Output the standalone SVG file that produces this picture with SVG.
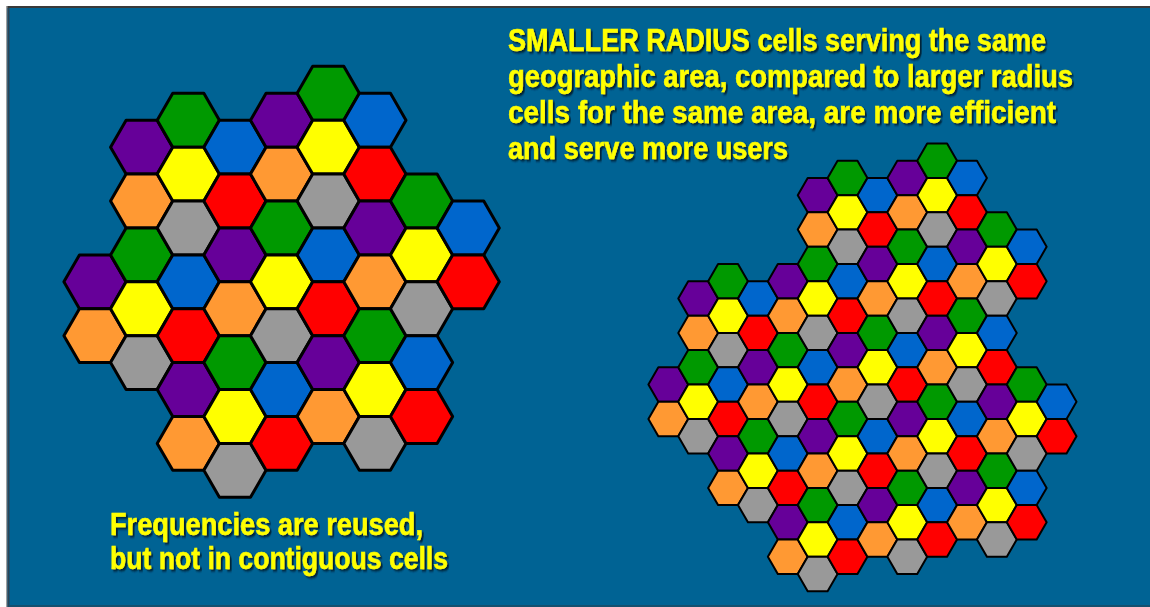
<svg xmlns="http://www.w3.org/2000/svg" width="1150" height="607" viewBox="0 0 1150 607">
<style>
.g{fill:#009900}.y{fill:#ffff00}.s{fill:#999999}.b{fill:#0066cc}.r{fill:#ff0000}.p{fill:#660099}.o{fill:#ff9933}
.L{stroke:#000;stroke-width:3;stroke-linejoin:round}
.R{stroke:#000;stroke-width:2;stroke-linejoin:round}
.t{font-family:"Liberation Sans Narrow","Liberation Sans","Arial Narrow",sans-serif;font-weight:bold;font-size:32px;fill:#ffff00;stroke:#ffff00;stroke-width:0.5;filter:url(#sh)}
</style>
<defs>
<polygon id="hL" points="31.1,0 15.55,26.93 -15.55,26.93 -31.1,0 -15.55,-26.93 15.55,-26.93"/>
<polygon id="hR" points="19.9,0 9.95,17.22 -9.95,17.22 -19.9,0 -9.95,-17.22 9.95,-17.22"/>
<filter id="sh" x="-5%" y="-30%" width="110%" height="160%">
<feDropShadow dx="2.2" dy="2" stdDeviation="0.8" flood-color="#001a2e" flood-opacity="0.95"/>
</filter>
</defs>
<rect width="1150" height="607" fill="#ffffff"/>
<rect x="6" y="6" width="1144" height="601" fill="#006394"/>
<rect x="6" y="6" width="1144" height="2" fill="#3a3a3a"/>
<rect x="6" y="6" width="1.5" height="601" fill="#a0a0a0"/>
<rect x="7.5" y="8" width="2" height="599" fill="#2b4456"/>
<rect x="9.5" y="605" width="1140.5" height="2" fill="#14506f"/>

<g id="large-cells" class="L">
<g id="L-col0" transform="translate(95,0)"><use href="#hL" y="281.81" class="p"/><use href="#hL" y="335.67" class="o"/></g>
<g id="L-col1" transform="translate(141.65,0)"><use href="#hL" y="147.16" class="p"/><use href="#hL" y="201.02" class="o"/><use href="#hL" y="254.88" class="g"/><use href="#hL" y="308.74" class="y"/><use href="#hL" y="362.6" class="s"/></g>
<g id="L-col2" transform="translate(188.3,0)"><use href="#hL" y="120.23" class="g"/><use href="#hL" y="174.09" class="y"/><use href="#hL" y="227.95" class="s"/><use href="#hL" y="281.81" class="b"/><use href="#hL" y="335.67" class="r"/><use href="#hL" y="389.53" class="p"/><use href="#hL" y="443.39" class="o"/></g>
<g id="L-col3" transform="translate(234.95,0)"><use href="#hL" y="147.16" class="b"/><use href="#hL" y="201.02" class="r"/><use href="#hL" y="254.88" class="p"/><use href="#hL" y="308.74" class="o"/><use href="#hL" y="362.6" class="g"/><use href="#hL" y="416.46" class="y"/><use href="#hL" y="470.32" class="s"/></g>
<g id="L-col4" transform="translate(281.6,0)"><use href="#hL" y="120.23" class="p"/><use href="#hL" y="174.09" class="o"/><use href="#hL" y="227.95" class="g"/><use href="#hL" y="281.81" class="y"/><use href="#hL" y="335.67" class="s"/><use href="#hL" y="389.53" class="b"/><use href="#hL" y="443.39" class="r"/></g>
<g id="L-col5" transform="translate(328.25,0)"><use href="#hL" y="93.3" class="g"/><use href="#hL" y="147.16" class="y"/><use href="#hL" y="201.02" class="s"/><use href="#hL" y="254.88" class="b"/><use href="#hL" y="308.74" class="r"/><use href="#hL" y="362.6" class="p"/><use href="#hL" y="416.46" class="o"/></g>
<g id="L-col6" transform="translate(374.9,0)"><use href="#hL" y="120.23" class="b"/><use href="#hL" y="174.09" class="r"/><use href="#hL" y="227.95" class="p"/><use href="#hL" y="281.81" class="o"/><use href="#hL" y="335.67" class="g"/><use href="#hL" y="389.53" class="y"/><use href="#hL" y="443.39" class="s"/></g>
<g id="L-col7" transform="translate(421.55,0)"><use href="#hL" y="201.02" class="g"/><use href="#hL" y="254.88" class="y"/><use href="#hL" y="308.74" class="s"/><use href="#hL" y="362.6" class="b"/><use href="#hL" y="416.46" class="r"/></g>
<g id="L-col8" transform="translate(468.2,0)"><use href="#hL" y="227.95" class="b"/><use href="#hL" y="281.81" class="r"/></g>
</g>

<g id="small-cells" class="R">
<g id="R-col0" transform="translate(668.3,0)"><use href="#hR" y="384.56" class="p"/><use href="#hR" y="419" class="o"/></g>
<g id="R-col1" transform="translate(698.17,0)"><use href="#hR" y="298.46" class="p"/><use href="#hR" y="332.9" class="o"/><use href="#hR" y="367.34" class="g"/><use href="#hR" y="401.78" class="y"/><use href="#hR" y="436.22" class="s"/></g>
<g id="R-col2" transform="translate(728.04,0)"><use href="#hR" y="281.24" class="g"/><use href="#hR" y="315.68" class="y"/><use href="#hR" y="350.12" class="s"/><use href="#hR" y="384.56" class="b"/><use href="#hR" y="419" class="r"/><use href="#hR" y="453.44" class="p"/><use href="#hR" y="487.88" class="o"/></g>
<g id="R-col3" transform="translate(757.91,0)"><use href="#hR" y="298.46" class="b"/><use href="#hR" y="332.9" class="r"/><use href="#hR" y="367.34" class="p"/><use href="#hR" y="401.78" class="o"/><use href="#hR" y="436.22" class="g"/><use href="#hR" y="470.66" class="y"/><use href="#hR" y="505.1" class="s"/></g>
<g id="R-col4" transform="translate(787.78,0)"><use href="#hR" y="281.24" class="p"/><use href="#hR" y="315.68" class="o"/><use href="#hR" y="350.12" class="g"/><use href="#hR" y="384.56" class="y"/><use href="#hR" y="419" class="s"/><use href="#hR" y="453.44" class="b"/><use href="#hR" y="487.88" class="r"/><use href="#hR" y="522.32" class="p"/><use href="#hR" y="556.76" class="o"/></g>
<g id="R-col5" transform="translate(817.65,0)"><use href="#hR" y="195.14" class="p"/><use href="#hR" y="229.58" class="o"/><use href="#hR" y="264.02" class="g"/><use href="#hR" y="298.46" class="y"/><use href="#hR" y="332.9" class="s"/><use href="#hR" y="367.34" class="b"/><use href="#hR" y="401.78" class="r"/><use href="#hR" y="436.22" class="p"/><use href="#hR" y="470.66" class="o"/><use href="#hR" y="505.1" class="g"/><use href="#hR" y="539.54" class="y"/><use href="#hR" y="573.98" class="s"/></g>
<g id="R-col6" transform="translate(847.52,0)"><use href="#hR" y="177.92" class="g"/><use href="#hR" y="212.36" class="y"/><use href="#hR" y="246.8" class="s"/><use href="#hR" y="281.24" class="b"/><use href="#hR" y="315.68" class="r"/><use href="#hR" y="350.12" class="p"/><use href="#hR" y="384.56" class="o"/><use href="#hR" y="419" class="g"/><use href="#hR" y="453.44" class="y"/><use href="#hR" y="487.88" class="s"/><use href="#hR" y="522.32" class="b"/><use href="#hR" y="556.76" class="r"/></g>
<g id="R-col7" transform="translate(877.39,0)"><use href="#hR" y="195.14" class="b"/><use href="#hR" y="229.58" class="r"/><use href="#hR" y="264.02" class="p"/><use href="#hR" y="298.46" class="o"/><use href="#hR" y="332.9" class="g"/><use href="#hR" y="367.34" class="y"/><use href="#hR" y="401.78" class="s"/><use href="#hR" y="436.22" class="b"/><use href="#hR" y="470.66" class="r"/><use href="#hR" y="505.1" class="p"/><use href="#hR" y="539.54" class="o"/></g>
<g id="R-col8" transform="translate(907.26,0)"><use href="#hR" y="177.92" class="p"/><use href="#hR" y="212.36" class="o"/><use href="#hR" y="246.8" class="g"/><use href="#hR" y="281.24" class="y"/><use href="#hR" y="315.68" class="s"/><use href="#hR" y="350.12" class="b"/><use href="#hR" y="384.56" class="r"/><use href="#hR" y="419" class="p"/><use href="#hR" y="453.44" class="o"/><use href="#hR" y="487.88" class="g"/><use href="#hR" y="522.32" class="y"/><use href="#hR" y="556.76" class="s"/></g>
<g id="R-col9" transform="translate(937.13,0)"><use href="#hR" y="160.7" class="g"/><use href="#hR" y="195.14" class="y"/><use href="#hR" y="229.58" class="s"/><use href="#hR" y="264.02" class="b"/><use href="#hR" y="298.46" class="r"/><use href="#hR" y="332.9" class="p"/><use href="#hR" y="367.34" class="o"/><use href="#hR" y="401.78" class="g"/><use href="#hR" y="436.22" class="y"/><use href="#hR" y="470.66" class="s"/><use href="#hR" y="505.1" class="b"/><use href="#hR" y="539.54" class="r"/></g>
<g id="R-col10" transform="translate(967,0)"><use href="#hR" y="177.92" class="b"/><use href="#hR" y="212.36" class="r"/><use href="#hR" y="246.8" class="p"/><use href="#hR" y="281.24" class="o"/><use href="#hR" y="315.68" class="g"/><use href="#hR" y="350.12" class="y"/><use href="#hR" y="384.56" class="s"/><use href="#hR" y="419" class="b"/><use href="#hR" y="453.44" class="r"/><use href="#hR" y="487.88" class="p"/><use href="#hR" y="522.32" class="o"/></g>
<g id="R-col11" transform="translate(996.87,0)"><use href="#hR" y="229.58" class="g"/><use href="#hR" y="264.02" class="y"/><use href="#hR" y="298.46" class="s"/><use href="#hR" y="332.9" class="b"/><use href="#hR" y="367.34" class="r"/><use href="#hR" y="401.78" class="p"/><use href="#hR" y="436.22" class="o"/><use href="#hR" y="470.66" class="g"/><use href="#hR" y="505.1" class="y"/><use href="#hR" y="539.54" class="s"/></g>
<g id="R-col12" transform="translate(1026.74,0)"><use href="#hR" y="246.8" class="b"/><use href="#hR" y="281.24" class="r"/><use href="#hR" y="384.56" class="g"/><use href="#hR" y="419" class="y"/><use href="#hR" y="453.44" class="s"/><use href="#hR" y="487.88" class="b"/><use href="#hR" y="522.32" class="r"/></g>
<g id="R-col13" transform="translate(1056.61,0)"><use href="#hR" y="401.78" class="b"/><use href="#hR" y="436.22" class="r"/></g>
</g>

<g id="caption-top">
<text class="t" transform="matrix(0.84,0,0,1,508,51)" textLength="640.5" lengthAdjust="spacingAndGlyphs">SMALLER RADIUS cells serving the same</text>
<text class="t" transform="matrix(0.84,0,0,1,508,87)" textLength="672.6" lengthAdjust="spacingAndGlyphs">geographic area, compared to larger radius</text>
<text class="t" transform="matrix(0.84,0,0,1,508,123)" textLength="652.4" lengthAdjust="spacingAndGlyphs">cells for the same area, are more efficient</text>
<text class="t" transform="matrix(0.84,0,0,1,508,159)" textLength="333.3" lengthAdjust="spacingAndGlyphs">and serve more users</text>
</g>
<g id="caption-bottom">
<text class="t" transform="matrix(0.84,0,0,1,110,535)" textLength="372.6" lengthAdjust="spacingAndGlyphs">Frequencies are reused,</text>
<text class="t" transform="matrix(0.84,0,0,1,110,568.5)" textLength="402.4" lengthAdjust="spacingAndGlyphs">but not in contiguous cells</text>
</g>
</svg>
